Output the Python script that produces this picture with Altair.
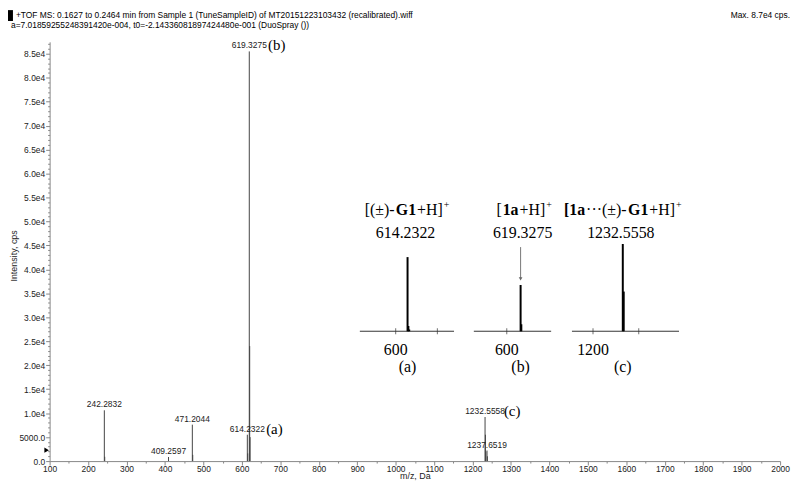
import altair as alt
import pandas as pd

# ---------------- data ----------------
mz = [242.2832, 243.29, 409.2597, 471.2044, 472.21, 614.2322, 615.24,
      619.3275, 620.33, 621.34, 1232.5558, 1233.56, 1234.56, 1237.6519, 1238.66]
intensity = [10600, 900, 850, 7600, 1300, 5500, 1600,
             85500, 24000, 5000, 9200, 5500, 2000, 2200, 1000]

label_mz = [242.2832, 409.2597, 471.2044, 614.2322, 619.3275, 1232.5558, 1237.6519]
label_int = [10600, 850, 7600, 5500, 85500, 9200, 2200]
label_text = ["242.2832", "409.2597", "471.2044", "614.2322", "619.3275", "1232.5558", "1237.6519"]

letter_mz = [614.2322, 619.3275, 1232.5558]
letter_int = [5500, 85500, 9200]
letter_text = ["(a)", "(b)", "(c)"]

x_ticks = list(range(100, 2001, 50))
y_ticks = list(range(0, 87001, 1000))

# insets (relative intensity)
inset_a_mz = [614.2322, 615.24, 616.24]
inset_a_int = [0.85, 0.06, 0.02]
inset_b_mz = [619.3275, 620.33]
inset_b_int = [0.53, 0.08]
inset_c_mz = [1232.5558, 1233.56]
inset_c_int = [1.0, 0.455]

header1 = "+TOF MS: 0.1627 to 0.2464 min from Sample 1 (TuneSampleID) of MT20151223103432 (recalibrated).wiff"
header2 = "a=7.01859255248391420e-004, t0=-2.14336081897424480e-001 (DuoSpray ())"
header_max = "Max. 8.7e4 cps."

# ---------------- style ----------------
FONT = "Liberation Sans"
SERIF = "Liberation Serif"
INK = "#222222"
W, H = 737, 423

xs = alt.Scale(domain=[100, 2000], nice=False, zero=False)
ys = alt.Scale(domain=[0, 87500], nice=False, zero=False)

x_axis = alt.Axis(
    values=x_ticks,
    labelExpr="datum.value % 100 === 0 ? format(datum.value, 'd') : ''",
    tickSize={"condition": {"test": "datum.value % 100 === 0", "value": 4}, "value": 2},
    labelPadding=0, labelOverlap=False, labelFlush=False, labelFont=FONT, labelFontSize=8.5,
    labelColor=INK, domainColor="#888888", tickColor="#888888", grid=False,
    title="m/z, Da", titleFont=FONT, titleFontSize=9, titleFontWeight="normal",
    titleColor=INK, titleY=15, titleBaseline="middle",
)
y_axis = alt.Axis(
    values=y_ticks,
    labelExpr="datum.value === 0 ? '0.0' : datum.value === 5000 ? '5000.0' : "
              "(datum.value % 5000 === 0 ? replace(format(datum.value, '.1e'), 'e+', 'e') : '')",
    tickSize={"condition": {"test": "datum.value % 5000 === 0", "value": 4}, "value": 2},
    labelPadding=1, labelOverlap=False, labelFlush=False, labelFont=FONT, labelFontSize=8.5,
    labelColor=INK, domainColor="#888888", tickColor="#888888", grid=False,
    title="Intensity, cps", titleFont=FONT, titleFontSize=9, titleFontWeight="normal",
    titleColor=INK, titleX=-36, titleY=H / 2 + 4, titleBaseline="middle", titleAlign="center",
)

peaks = pd.DataFrame({"mz": mz, "intensity": intensity})
labels = pd.DataFrame({"mz": label_mz, "intensity": label_int, "text": label_text})
letters = pd.DataFrame({"mz": letter_mz, "intensity": letter_int, "text": letter_text})
one = pd.DataFrame({"k": [0]})

MX = alt.X("mz:Q", scale=xs, axis=x_axis)
MY = alt.Y("intensity:Q", scale=ys, axis=y_axis)

rules = alt.Chart(peaks).mark_rule(color="#444444", strokeWidth=1).encode(
    x=MX, y=MY, y2=alt.datum(0),
)
num_labels = alt.Chart(labels).mark_text(
    font=FONT, fontSize=8.5, color=INK, baseline="middle", align="center", dy=-6
).encode(x=MX, y=MY, text="text:N")
let_labels = alt.Chart(letters).mark_text(
    font=SERIF, fontSize=15, color="black", baseline="middle", align="left", dx=19, dy=-6
).encode(x=MX, y=MY, text="text:N")

hdr_rect = alt.Chart(one).mark_rect(color="black").encode(
    x=alt.value(-42), x2=alt.value(-37), y=alt.value(-32), y2=alt.value(-21))
hdr1 = alt.Chart(one).mark_text(font=FONT, fontSize=8.5, color="black", align="left",
                                baseline="middle").encode(
    x=alt.value(-34), y=alt.value(-27), text=alt.value(header1))
hdr2 = alt.Chart(one).mark_text(font=FONT, fontSize=8.5, color="black", align="left",
                                baseline="middle").encode(
    x=alt.value(-39), y=alt.value(-17), text=alt.value(header2))
hdr3 = alt.Chart(one).mark_text(font=FONT, fontSize=8.5, color="black", align="right",
                                baseline="middle").encode(
    x=alt.value(747), y=alt.value(-27), text=alt.value(header_max))
marker = alt.Chart(one).mark_point(shape="triangle-right", filled=True, size=28,
                                   color="black", opacity=1).encode(
    x=alt.value(-3), y=alt.value(412))

main = alt.layer(rules, num_labels, let_labels, hdr_rect, hdr1, hdr2, hdr3, marker)

# ---------------- insets ----------------
REG = {"[": 333, "]": 333, "(": 333, ")": 333, "±": 564, "-": 333, "G": 722, "1": 500,
       "+": 564, "H": 722, "a": 444, "·": 340, " ": 250}
BOLD = {"[": 333, "1": 500, "a": 500, "G": 778}


def seg_w(text, kind):
    if kind == "s":
        return sum(REG.get(c, 500) for c in text) * 10 / 1000
    table = BOLD if kind == "b" else REG
    return sum(table.get(c, 500) for c in text) * 16 / 1000


def inset(p_mz, p_int, dom, rng, peak, tick_vals, tick_lab_val, tick_lab, segs, value_text,
          letter, title_shift=0, arrow=False):
    sx = alt.Scale(domain=dom, range=rng, nice=False, zero=False)
    sy = alt.Scale(domain=[0, 1], range=[292, 204], nice=False, zero=False)
    X = lambda f: alt.X(f, scale=sx, axis=None)
    Y = lambda f: alt.Y(f, scale=sy, axis=None)
    layers = []
    base = pd.DataFrame({"x1": [dom[0]], "x2": [dom[1]], "y": [0]})
    layers.append(alt.Chart(base).mark_rule(color="#333333", strokeWidth=1).encode(
        x=X("x1:Q"), x2="x2:Q", y=Y("y:Q")))
    tk = pd.DataFrame({"mz": tick_vals, "y": [0] * len(tick_vals)})
    layers.append(alt.Chart(tk).mark_tick(color="#333333", thickness=1, size=6,
                                          orient="vertical").encode(x=X("mz:Q"), y=Y("y:Q")))
    pk = pd.DataFrame({"mz": p_mz, "v": p_int})
    layers.append(alt.Chart(pk).mark_rule(color="black", strokeWidth=2).encode(
        x=X("mz:Q"), y=Y("v:Q"), y2=alt.datum(0)))
    if arrow:
        ar = pd.DataFrame({"mz": [peak], "a": [0.965], "b": [0.6]})
        layers.append(alt.Chart(ar).mark_rule(color="#777777", strokeWidth=1).encode(
            x=X("mz:Q"), y=Y("a:Q"), y2="b:Q"))
        layers.append(alt.Chart(ar).mark_point(shape="triangle-down", filled=True, size=14,
                                               color="#666666", opacity=1).encode(
            x=X("mz:Q"), y=Y("b:Q")))
    anchor = pd.DataFrame({"mz": [peak], "top": [1.0], "zero": [0.0]})
    lab = pd.DataFrame({"mz": [tick_lab_val], "zero": [0.0]})
    layers.append(alt.Chart(lab).mark_text(font=SERIF, fontSize=16, color="black",
                                           align="center", baseline="middle", dy=19).encode(
        x=X("mz:Q"), y=Y("zero:Q"), text=alt.value(tick_lab)))
    layers.append(alt.Chart(anchor).mark_text(font=SERIF, fontSize=16, color="black",
                                              align="center", baseline="middle", dy=36).encode(
        x=X("mz:Q"), y=Y("zero:Q"), text=alt.value(letter)))
    layers.append(alt.Chart(anchor).mark_text(font=SERIF, fontSize=16, color="black",
                                              align="center", baseline="middle",
                                              dx=title_shift, dy=-11).encode(
        x=X("mz:Q"), y=Y("top:Q"), text=alt.value(value_text)))
    total = sum(seg_w(t, k) for t, k in segs)
    off = title_shift - total / 2
    for t, k in segs:
        layers.append(alt.Chart(anchor).mark_text(
            font=SERIF, fontSize=10 if k == "s" else 16,
            fontWeight="bold" if k == "b" else "normal", color="black",
            align="left", baseline="middle", dx=off, dy=-39 if k == "s" else -34).encode(
            x=X("mz:Q"), y=Y("top:Q"), text=alt.value(t)))
        off += seg_w(t, k) + (1 if k != "s" else 0)
    return alt.layer(*layers)


ia = inset(inset_a_mz, inset_a_int, [557, 670], [313, 408], 614.2322, [600, 650], 600, "600",
           [("[(±)-", "n"), ("G1", "b"), ("+H]", "n"), ("+", "s")], "614.2322", "(a)",
           title_shift=-2)
ib = inset(inset_b_mz, inset_b_int, [554, 662], [428, 506], 619.3275, [600], 600, "600",
           [("[", "n"), ("1a", "b"), ("+H]", "n"), ("+", "s")], "619.3275", "(b)",
           title_shift=2, arrow=True)
ic = inset(inset_c_mz, inset_c_int, [1177, 1294], [527, 635], 1232.5558, [1200, 1250], 1200,
           "1200", [("[1a", "b"), ("···(±)-", "n"), ("G1", "b"), ("+H]", "n"), ("+", "s")],
           "1232.5558", "(c)", title_shift=-2)

chart = alt.layer(main, ia, ib, ic).resolve_scale(
    x="independent", y="independent"
).properties(
    width=W, height=H,
    autosize=alt.AutoSizeParams(type="none"),
    padding={"left": 42, "top": 32, "right": 12, "bottom": 22},
).configure_view(stroke=None)

chart.save("out.html", embed_options={"renderer": "svg", "actions": False})
